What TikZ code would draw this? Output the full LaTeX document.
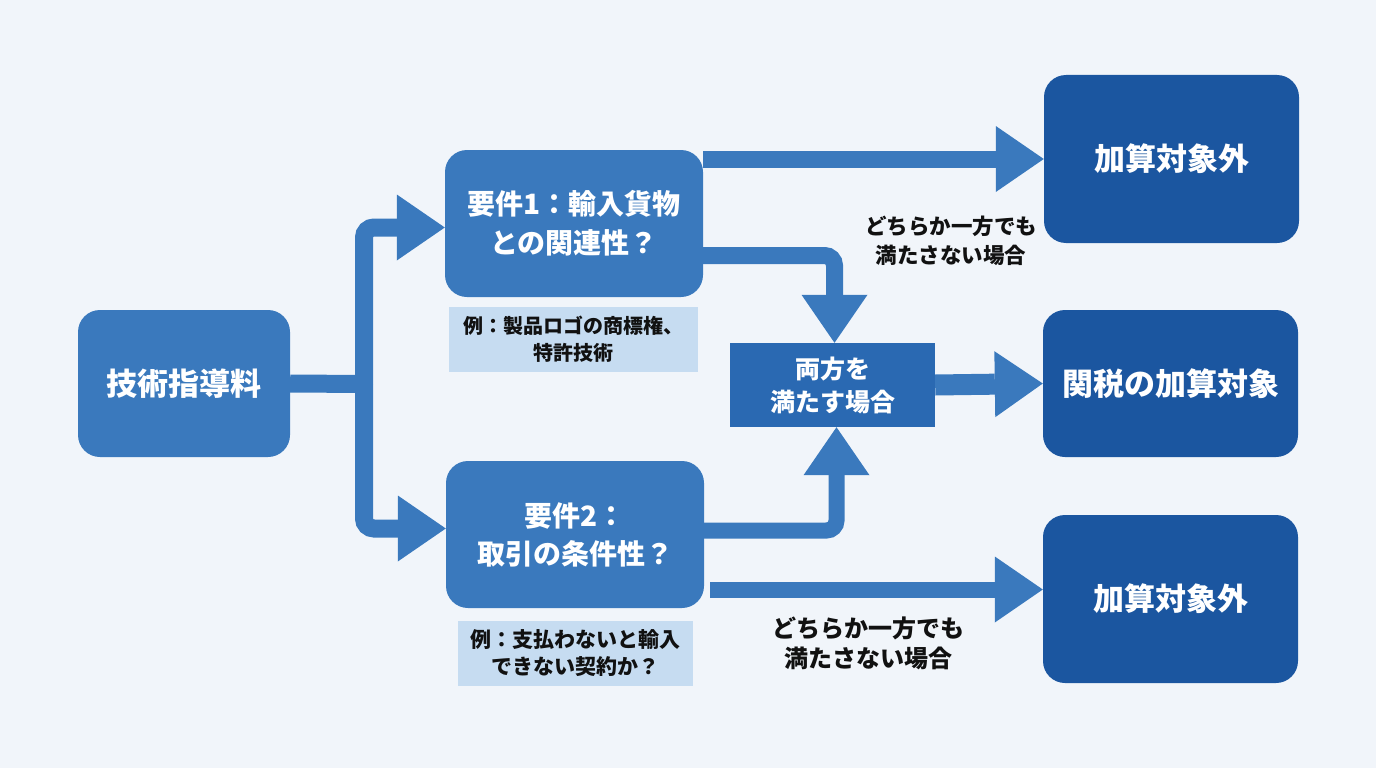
\documentclass[tikz,border=0pt]{standalone}
\usepackage{fontspec}
\setmainfont{Noto Sans CJK JP}
\usetikzlibrary{arrows.meta}
\definecolor{bg}{HTML}{F1F5FA}
\definecolor{midblue}{HTML}{3A79BD}
\definecolor{darkblue}{HTML}{1B56A0}
\definecolor{bothblue}{HTML}{2A69B2}
\definecolor{arrowblue}{HTML}{3A79BD}
\definecolor{notefill}{HTML}{C6DCF1}
\definecolor{txt}{HTML}{111111}
\begin{document}
\begin{tikzpicture}[x=1pt,y=-1pt,
  rbox/.style={rounded corners=22pt, fill=midblue, text=white, align=center, inner sep=0pt},
  dbox/.style={rounded corners=22pt, fill=darkblue, text=white, align=center, inner sep=0pt,
     minimum width=255pt, font={\fontsize{31}{38}\selectfont\bfseries}},
  notebox/.style={fill=notefill, text=txt, align=center, inner sep=0pt},
  lbl/.style={text=txt, align=center, inner sep=0pt},
  shaft/.style={draw=arrowblue, line width=18pt},
  arr/.style={-{Triangle[length=48pt,width=66pt,line width=0pt]}},
  bendpath/.style={rounded corners=10pt}
]
\fill[bg] (0,0) rectangle (1376,768);
\useasboundingbox (0,0) rectangle (1376,768);

% nodes
\node[rbox, minimum width=212pt, minimum height=147pt, font={\fontsize{31}{38}\selectfont\bfseries}] (tech) at (184,383.5) {技術指導料};
\node[rbox, minimum width=258pt, minimum height=147pt, font={\fontsize{28}{39}\selectfont\bfseries}] (req1) at (574,223.5) {要件1：輸入貨物\\との関連性？};
\node[rbox, minimum width=258pt, minimum height=147pt, font={\fontsize{28}{38}\selectfont\bfseries}] (req2) at (575,534.5) {要件2：\\取引の条件性？};
\node[notebox, minimum width=249pt, minimum height=65pt, font={\fontsize{20}{27}\selectfont\bfseries}] (note1) at (573,339.5) {例：製品ロゴの商標権、\\特許技術};
\node[notebox, minimum width=235pt, minimum height=65pt, font={\fontsize{21}{27}\selectfont\bfseries}] (note2) at (575.5,653.5) {例：支払わないと輸入\\できない契約か？};
\node[fill=bothblue, text=white, align=center, inner sep=0pt, minimum width=205pt, minimum height=84pt, font={\fontsize{25}{33}\selectfont\bfseries}] (both) at (832.5,385) {両方を\\満たす場合};
\node[dbox, minimum height=168pt] (out1) at (1171.5,159) {加算対象外};
\node[dbox, minimum height=147pt] (tax) at (1170.5,383.5) {関税の加算対象};
\node[dbox, minimum height=168pt] (out2) at (1170.5,599) {加算対象外};

\node[lbl, font={\fontsize{21.5}{29}\selectfont\bfseries}] (lab1) at (951,240.5) {どちらか一方でも\\満たさない場合};
\node[lbl, font={\fontsize{24}{30}\selectfont\bfseries}] (lab2) at (868,643) {どちらか一方でも\\満たさない場合};

% connectors
\coordinate (tj) at (364,384);
\draw[shaft] (tech.east) -- (tj);
\draw[shaft, arr, bendpath] (tj) |- ([yshift=-4pt]req1.west);
\draw[shaft, arr, bendpath] (tj) |- ([yshift=6pt]req2.west);

\draw[shaft, line width=17pt, arr] (req1.east |- out1.west) -- (out1.west);
\draw[shaft, line width=17pt, arr, bendpath] ([yshift=-32pt]req1.east) -| ([xshift=2pt]both.north);
\draw[shaft, line width=16pt, arr, bendpath] ([yshift=4pt]req2.east) -| ([xshift=4pt]both.south);
\coordinate (a5) at ([xshift=6pt,yshift=-55pt]req2.east);
\draw[shaft, line width=16pt, arr] (a5) -- (out2.west |- a5);
\draw[shaft, line width=21pt, arr] (both.east) -- (tax.west);
\end{tikzpicture}
\end{document}
